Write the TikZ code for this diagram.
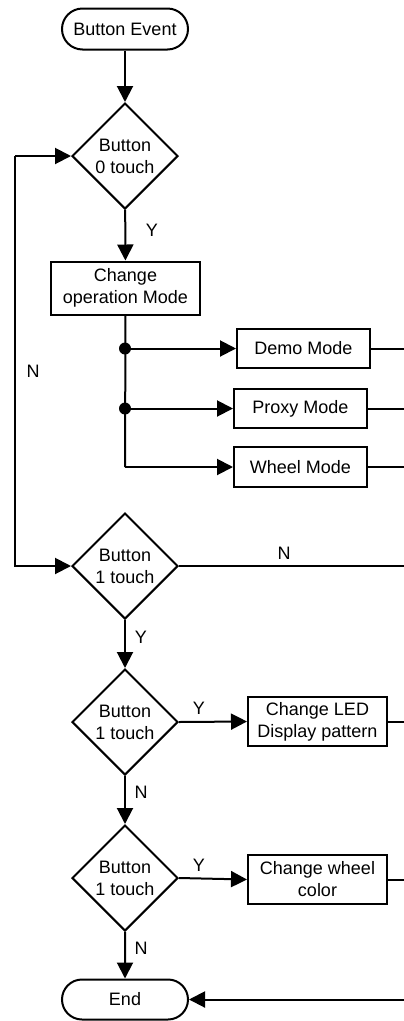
\documentclass[tikz,border=0pt]{standalone}
\usepackage{fontspec}
\setmainfont{Liberation Sans}
\usetikzlibrary{arrows.meta,shapes.geometric,shapes.misc}
\begin{document}
\begin{tikzpicture}[x=1pt,y=-1pt,
  font=\fontsize{18}{22}\selectfont,
  every node/.style={inner sep=0pt},
  ln/.style={line width=2pt},
  arr/.style={ln,-{Triangle[length=16pt,width=16pt]}},
  term/.style={rounded rectangle,draw,ln,minimum width=126pt,minimum height=41pt},
  dec/.style={diamond,draw,ln,aspect=1,minimum width=106pt,minimum height=106pt,align=center},
  proc/.style={rectangle,draw,ln,align=center},
  dot/.style={circle,fill=black,minimum size=12pt},
  lbl/.style={}]
\useasboundingbox (0,0) rectangle (404,1021);
\coordinate (E) at (404,0);
\coordinate (L) at (15,0);

\node[term] (start) at (125,29) {Button Event};
\node[dec] (d0) at (125,156) {Button\\0 touch};
\node[proc,minimum width=149pt,minimum height=53pt] (op) at (125.5,288) {Change\\operation Mode};
\node[proc,minimum width=133pt,minimum height=39pt] (demo) at (303.5,348.5) {Demo Mode};
\node[proc,minimum width=133pt,minimum height=39pt] (proxy) at (300.5,408.5) {Proxy Mode};
\node[proc,minimum width=133pt,minimum height=40pt] (wheel) at (300.5,467) {Wheel Mode};
\node[dec] (d1) at (125,566) {Button\\1 touch};
\node[dec] (d2) at (125,722) {Button\\1 touch};
\node[proc,minimum width=139pt,minimum height=49pt] (led) at (317.5,721.5) {Change LED\\Display pattern};
\node[dec] (d3) at (125,878) {Button\\1 touch};
\node[proc,minimum width=139pt,minimum height=49pt] (wc) at (317.5,879.5) {Change wheel\\color};
\node[term,minimum height=40pt] (end) at (125,999.5) {End};

\node[dot] (j1) at (125,348.5) {};
\node[dot] (j2) at (125,408.5) {};
\coordinate (j3) at (125,467);

% main flow
\draw[arr] (start) -- (d0);
\draw[arr] (d0) -- (op);
\draw[ln] (op.south) -- (j3);
\draw[arr] (j1.center) -- (demo.west);
\draw[arr] (j2.center) -- (proxy.west);
\draw[arr] (j3) -- (wheel.west);
\draw[arr] (d1) -- (d2);
\draw[arr] (d2) -- (d3);
\draw[arr] (d3) -- (end);
\draw[arr] (d2.east) -- (led.west);
\draw[arr] (d3.east) -- (wc.west);

% left loop
\draw[arr] (d0.west -| L) -- (d0.west);
\draw[arr] (d0.west -| L) -- (d1.west -| L) -- (d1.west);

% right side exits
\draw[ln] (demo.east) -- (demo.east -| E);
\draw[ln] (proxy.east) -- (proxy.east -| E);
\draw[ln] (wheel.east) -- (wheel.east -| E);
\draw[ln] (d1.east) -- (d1.east -| E);
\draw[ln] (led.east) -- (led.east -| E);
\draw[ln] (wc.east) -- (wc.east -| E);
\draw[arr] (end.east -| E) -- (end.east);

% labels
\node[lbl] (y0) at (152,230) {Y};
\node[lbl] (nl) at (33,371) {N};
\node[lbl] (n1) at (284,553) {N};
\node[lbl] (y1) at (141,637) {Y};
\node[lbl] (y2) at (199,708) {Y};
\node[lbl] (n2) at (141,792) {N};
\node[lbl] (y3) at (199,865) {Y};
\node[lbl] (n3) at (141,948) {N};
\end{tikzpicture}
\end{document}
